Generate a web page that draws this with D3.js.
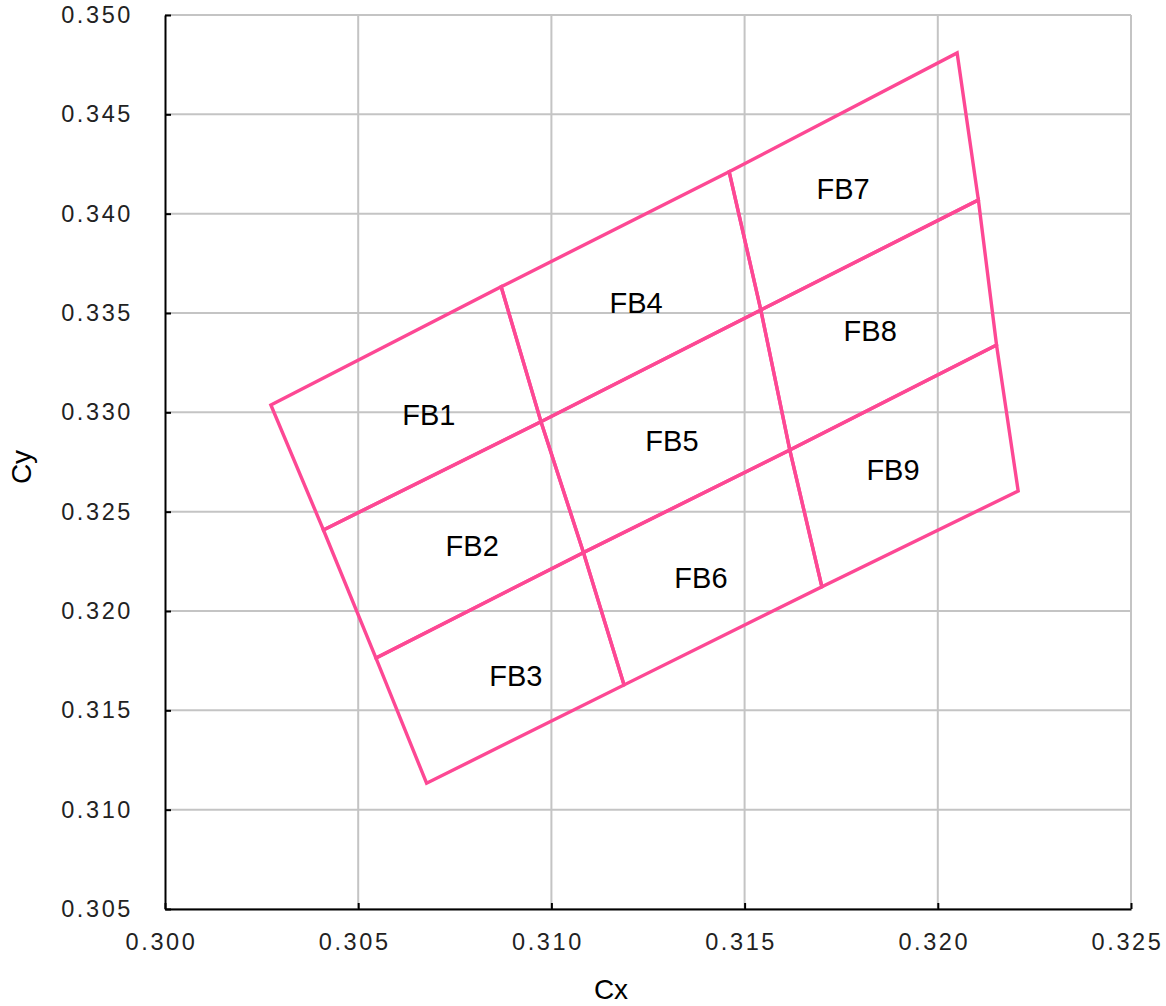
<!DOCTYPE html>
<html>
<head>
<meta charset="utf-8">
<script src="https://cdn.jsdelivr.net/npm/d3@7"></script>
<style>
  body { margin: 0; background: #fff; }
  svg { display: block; }
</style>
</head>
<body>
<div id="chart"></div>
<script>
const w = 1166
const h = 1006

// Tick values for both axes
const xTicks = [0.300, 0.305, 0.310, 0.315, 0.320, 0.325]
const yTicks = [0.305, 0.310, 0.315, 0.320, 0.325, 0.330, 0.335, 0.340, 0.345, 0.350]

// Corner grid of the bins: rows go top edge -> bottom edge, columns left -> right
const cornerX = [
  [0.30274, 0.30870, 0.31460, 0.32050],
  [0.30410, 0.30973, 0.31542, 0.32105],
  [0.30546, 0.31083, 0.31617, 0.32152],
  [0.30677, 0.31188, 0.31700, 0.32208]
]
const cornerY = [
  [0.33037, 0.33632, 0.34211, 0.34809],
  [0.32408, 0.32953, 0.33515, 0.34069],
  [0.31763, 0.32294, 0.32810, 0.33339],
  [0.31133, 0.31628, 0.32122, 0.32604]
]

// Bin names and where their labels sit (centre of text)
const binNames = ["FB1", "FB2", "FB3", "FB4", "FB5", "FB6", "FB7", "FB8", "FB9"]
const labelX = [0.30683, 0.30795, 0.30908, 0.31219, 0.31312, 0.31387, 0.31755, 0.31825, 0.31884]
const labelY = [0.32987, 0.32327, 0.31673, 0.33550, 0.32856, 0.32166, 0.34124, 0.33409, 0.32710]

const svg = d3.select("#chart")
  .append("svg")
    .attr("width", w)
    .attr("height", h)

const x = d3.scaleLinear().domain([0.300, 0.325]).range([165, 1131])
const y = d3.scaleLinear().domain([0.305, 0.350]).range([909, 15])
const fmt = d3.format(".3f")

// --- gridlines ---
const grid = svg.append("g")
grid.selectAll(".vg")
  .data(xTicks.slice(1))
  .join("line")
    .attr("x1", d => x(d)).attr("x2", d => x(d))
    .attr("y1", y(0.305)).attr("y2", y(0.350))
    .attr("stroke", "#c4c4c4")
    .attr("stroke-width", 2)
grid.selectAll(".hg")
  .data(yTicks)
  .join("line")
    .attr("x1", x(0.300)).attr("x2", x(0.325))
    .attr("y1", d => y(d)).attr("y2", d => y(d))
    .attr("stroke", "#c4c4c4")
    .attr("stroke-width", 2)

// --- axes ---
const xAxis = svg.append("g")
  .attr("transform", `translate(0, ${y(0.305)})`)
  .call(d3.axisBottom(x).tickValues(xTicks).tickFormat(fmt).tickSizeInner(-6).tickSizeOuter(0).tickPadding(24))

const yAxis = svg.append("g")
  .attr("transform", `translate(${x(0.300)}, 0)`)
  .call(d3.axisLeft(y).tickValues(yTicks).tickFormat(fmt).tickSizeInner(-6).tickSizeOuter(0).tickPadding(32))

;[xAxis, yAxis].forEach(a => {
  a.select(".domain").attr("stroke", "#000").attr("stroke-width", 2)
  a.selectAll(".tick line").attr("stroke", "#000").attr("stroke-width", 2)
  a.selectAll(".tick text")
    .attr("fill", "#222")
    .style("font-family", "'Liberation Sans', Arial, sans-serif")
    .style("font-size", "23.5px")
    .style("letter-spacing", "2.6px")
})
xAxis.selectAll(".tick text").attr("dx", -4)

// --- bins ---
const bins = []
for (let c = 0; c < 3; c++) {
  for (let r = 0; r < 3; r++) {
    bins.push([[r, c], [r, c + 1], [r + 1, c + 1], [r + 1, c]])
  }
}
const line = d3.line()
  .x(d => x(cornerX[d[0]][d[1]]))
  .y(d => y(cornerY[d[0]][d[1]]))
  .curve(d3.curveLinearClosed)

svg.append("g")
  .selectAll("path")
  .data(bins)
  .join("path")
    .attr("d", line)
    .attr("fill", "none")
    .attr("stroke", "#fd4894")
    .attr("stroke-width", 3.4)
    .attr("stroke-linejoin", "miter")

// --- bin labels ---
svg.append("g")
  .selectAll("text")
  .data(binNames)
  .join("text")
    .attr("x", (d, i) => x(labelX[i]))
    .attr("y", (d, i) => y(labelY[i]))
    .attr("text-anchor", "middle")
    .attr("dominant-baseline", "central")
    .style("font-family", "'Liberation Sans', Arial, sans-serif")
    .style("font-size", "29px")
    .attr("fill", "#000")
    .text(d => d)

// --- axis titles ---
svg.append("text")
  .attr("x", 611)
  .attr("y", 999)
  .attr("text-anchor", "middle")
  .style("font-family", "'Liberation Sans', Arial, sans-serif")
  .style("font-size", "28px")
  .text("Cx")

svg.append("text")
  .attr("transform", "translate(31, 467) rotate(-90)")
  .attr("text-anchor", "middle")
  .style("font-family", "'Liberation Sans', Arial, sans-serif")
  .style("font-size", "28px")
  .text("Cy")
</script>
</body>
</html>
